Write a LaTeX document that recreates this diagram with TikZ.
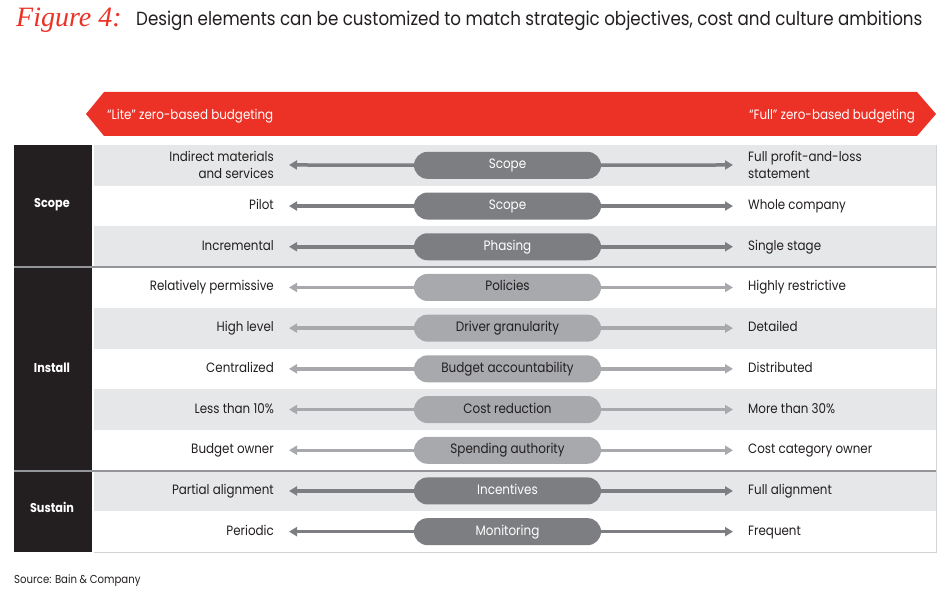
\documentclass[tikz,border=0pt]{standalone}
\usepackage{fontspec}
\setmainfont{Poppins}[FakeStretch=0.88]
\newfontfamily\scriptf{Liberation Serif}
\usetikzlibrary{arrows.meta}
\definecolor{bred}{HTML}{EC3226}
\definecolor{blk}{HTML}{231F20}
\definecolor{rowg}{HTML}{E6E7E8}
\definecolor{pdk}{HTML}{7D7E81}
\definecolor{plt}{HTML}{A7A9AC}
\definecolor{sep}{HTML}{939598}
\definecolor{edge}{HTML}{D1D3D4}
\tikzset{
  txt/.style={font=\fontsize{13.5}{17}\selectfont, text=blk, inner sep=0pt},
  single/.style={text height=10pt, text depth=3pt},
  multi/.style={yshift=0.5pt},
  lefttxt/.style={txt, anchor=east, align=right},
  righttxt/.style={txt, anchor=west, align=left},
  pill/.style={minimum width=187pt, minimum height=27pt, rounded corners=13.5pt, inner sep=0pt,
     font=\fontsize{13.6}{15}\selectfont, text height=10pt, text depth=3pt},
  dk/.style={pill, fill=pdk, text=white},
  lt/.style={pill, fill=plt, text=blk},
  arrdk/.style={draw=pdk, line width=3.5pt, -{Triangle[length=8pt,width=9pt]}, shorten >=15pt},
  arrlt/.style={draw=plt, line width=3.5pt, -{Triangle[length=8pt,width=9pt]}, shorten >=15pt},
  grp/.style={fill=blk, text=white, font=\bfseries\fontsize{12.8}{14}\selectfont, inner sep=0pt},
}
\begin{document}
\begin{tikzpicture}[x=1pt,y=-1pt]
\useasboundingbox (0,0) rectangle (950,591);
\fill[white] (0,0) rectangle (950,591);
% title
\node[anchor=base west, inner sep=0pt, text=bred, font=\scriptf\itshape\fontsize{28}{28}\selectfont] (fig) at (16,27) {Figure 4:};
\node[anchor=base west, inner sep=0pt, text=blk, font=\fontsize{19}{20}\selectfont] (title) at (136,26) {Design elements can be customized to match strategic objectives, cost and culture ambitions};
% red banner
\fill[bred] (86,114) -- (104,92) -- (917,92) -- (936,114) -- (917,136) -- (104,136) -- cycle;
\node[anchor=west, inner sep=0pt, text=white, font=\fontsize{13.5}{15}\selectfont] (lite) at (107,116) {“Lite” zero-based budgeting};
\node[anchor=east, inner sep=0pt, text=white, font=\fontsize{13.5}{15}\selectfont] (full) at (915,116) {“Full” zero-based budgeting};
% rows
\foreach \i in {0,2,4,6,8} {
  \fill[rowg] (94,{145+\i*40.7}) rectangle (936,{145+(\i+1)*40.7});
}
\draw[edge, line width=0.8pt] (936,145) -- (936,552) -- (94,552);
% group blocks
\fill[blk] (14,145) rectangle (92,266);
\fill[blk] (14,268) rectangle (92,470);
\fill[blk] (14,472) rectangle (92,552);
\node[grp] (gscope) at (52,205) {Scope};
\node[grp] (ginstall) at (52,368) {Install};
\node[grp] (gsustain) at (52,507) {Sustain};
\draw[sep, line width=1.6pt] (14,267) -- (936,267);
\draw[sep, line width=1.6pt] (14,471) -- (936,471);
% content rows
\foreach \i/\lt/\pt/\rt/\st/\ex in {
  0/{Indirect materials\\and services}/Scope/{Full profit-and-loss\\statement}/dk/multi,
  1/Pilot/Scope/Whole company/dk/single,
  2/Incremental/Phasing/Single stage/dk/single,
  3/Relatively permissive/Policies/Highly restrictive/lt/single,
  4/High level/Driver granularity/Detailed/lt/single,
  5/Centralized/Budget accountability/Distributed/lt/single,
  6/Less than 10\%/Cost reduction/More than 30\%/lt/single,
  7/Budget owner/Spending authority/Cost category owner/lt/single,
  8/Partial alignment/Incentives/Full alignment/dk/single,
  9/Periodic/Monitoring/Frequent/dk/single} {
  \pgfmathsetmacro{\yy}{145+(\i+0.5)*40.7}
  \node[lefttxt, \ex] (l\i) at (274,\yy) {\lt};
  \node[righttxt, \ex] (r\i) at (748,\yy) {\rt};
  \node[\st] (p\i) at (507.5,\yy) {\pt};
  \draw[arr\st] (p\i) -- (l\i);
  \draw[arr\st] (p\i) -- (r\i);
}
\node[anchor=base west, inner sep=0pt, text=blk, font=\fontsize{11.5}{13}\selectfont] (src) at (14,583) {Source: Bain \& Company};
\end{tikzpicture}
\end{document}
